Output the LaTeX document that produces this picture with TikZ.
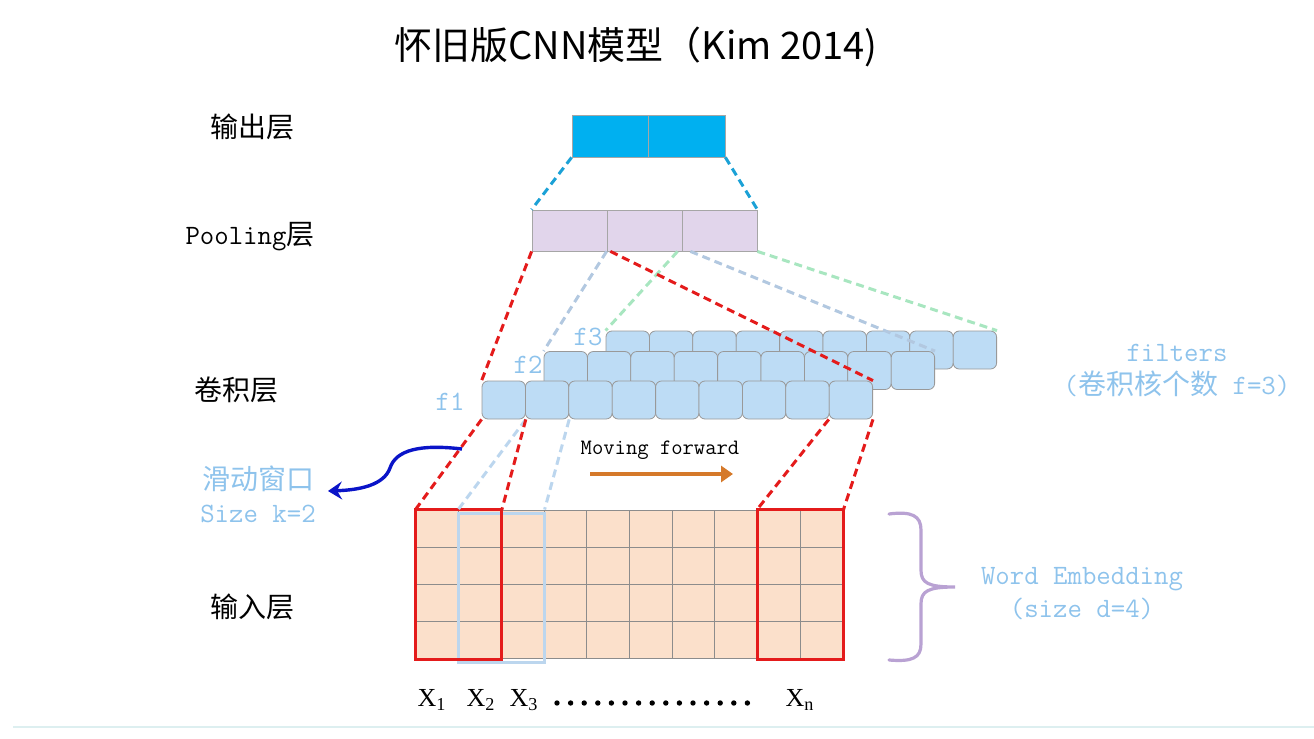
\documentclass[tikz,border=0pt]{standalone}
\usepackage{fontspec}
\setmainfont{Liberation Serif}
\newfontfamily\cjk{Noto Sans CJK SC}
\usetikzlibrary{arrows.meta}

\definecolor{outblue}{HTML}{00B0F0}
\definecolor{poolviolet}{HTML}{E1D5EB}
\definecolor{filterblue}{HTML}{BDDCF5}
\definecolor{embedpeach}{HTML}{FBE0CB}
\definecolor{txtblue}{HTML}{8EC3EC}
\definecolor{winred}{HTML}{E41B1B}
\definecolor{paleblue}{HTML}{BCD6EE}
\definecolor{greyblue}{HTML}{B2C8E0}
\definecolor{palegreen}{HTML}{A8E6C0}
\definecolor{linkcyan}{HTML}{1BA1D6}
\definecolor{slideblue}{HTML}{0A14C8}
\definecolor{moveorange}{HTML}{D5792A}
\definecolor{bracepurple}{HTML}{B9A2D3}
\definecolor{rulecolor}{HTML}{DDEFF0}

\begin{document}
\begin{tikzpicture}[x=0.5pt, y=-0.5pt,
    outcell/.style={draw=gray!70, fill=outblue, minimum width=38.25pt, minimum height=21pt, inner sep=0pt},
    poolcell/.style={draw=gray!70, fill=poolviolet, minimum width=37.5pt, minimum height=20.5pt, inner sep=0pt},
    fcell/.style={draw=gray!80, fill=filterblue, rounded corners=3pt, minimum width=21.7pt, minimum height=19pt, inner sep=0pt},
    ecell/.style={draw=gray!90, fill=embedpeach, line width=0.5pt, minimum width=21.35pt, minimum height=18.6pt, inner sep=0pt},
    conn/.style={dash pattern=on 4pt off 2.5pt, line width=1.5pt},
    layerlab/.style={font=\cjk\fontsize{14}{16}\selectfont},
    bluelab/.style={text=txtblue, font=\ttfamily\fontsize{14}{16.5}\selectfont, align=center},
    xlab/.style={font=\fontsize{13}{15}\selectfont}]
    \useasboundingbox (0,0) rectangle (1314,739);

    % title
    \node[font=\cjk\fontsize{19}{21}\selectfont] (title) at (636,47) {怀旧版CNN模型（Kim 2014)};

    % layer names
    \node[layerlab] (lab-out) at (252,127) {输出层};
    \node[layerlab] (lab-pool) at (250,237) {{\ttfamily Pooling}层};
    \node[layerlab] (lab-conv) at (236,390) {卷积层};
    \node[layerlab] (lab-in) at (252,607) {输入层};

    % output layer
    \foreach \i in {1,2}
        \node[outcell] (out-\i) at ({572+76.5*(\i-0.5)},136) {};
    % pooling layer
    \foreach \i in {1,2,3}
        \node[poolcell] (pool-\i) at ({532+75*(\i-0.5)},230.5) {};

    % filters, back row first
    \foreach \row/\xs/\ys in {3/606/350, 2/544/370.5, 1/482/400}
        \foreach \i in {1,...,9}
            \node[fcell] (f\row-\i) at ({\xs+43.4*(\i-0.5)},\ys) {};
    \node[bluelab] (flab-1) at (450,402) {f1};
    \node[bluelab] (flab-2) at (528,365) {f2};
    \node[bluelab] (flab-3) at (588,337) {f3};

    % word embeddings
    \foreach \c in {1,...,10}
        \foreach \r in {1,...,4}
            \node[ecell] (e-\c-\r) at ({416+42.7*(\c-0.5)},{510+37.25*(\r-0.5)}) {};
    \draw[paleblue, line width=1.5pt] ([yshift=-2pt]e-2-1.north west) rectangle ([yshift=-1.5pt]e-3-4.south east);
    \draw[winred, line width=1.5pt] (e-1-1.north west) rectangle (e-2-4.south east);
    \draw[winred, line width=1.5pt] (e-9-1.north west) rectangle (e-10-4.south east);

    % output -> pooling
    \draw[conn, linkcyan] (out-1.south west) -- (pool-1.north west);
    \draw[conn, linkcyan] (out-2.south east) -- (pool-3.north east);

    % pooling -> filters
    \draw[conn, palegreen] ([xshift=-2pt]pool-3.south west) -- (f3-1.north west);
    \draw[conn, palegreen] (pool-3.south east) -- (f3-9.north east);
    \draw[conn, greyblue] (pool-2.south west) -- (f2-1.north west);
    \draw[conn, greyblue] ([xshift=4pt]pool-2.south east) -- (f2-9.north east);
    \draw[conn, winred] (pool-1.south west) -- (f1-1.north west);
    \draw[conn, winred] ([xshift=1.5pt]pool-1.south east) -- (f1-9.north east);

    % filters -> windows
    \draw[conn, paleblue] (f1-1.south east) -- (e-2-1.north west);
    \draw[conn, paleblue] (f1-2.south east) -- (e-3-1.north east);
    \draw[conn, winred] (f1-1.south west) -- (e-1-1.north west);
    \draw[conn, winred] (f1-1.south east) -- (e-2-1.north east);
    \draw[conn, winred] (f1-9.south west) -- (e-9-1.north west);
    \draw[conn, winred] (f1-9.south east) -- (e-10-1.north east);

    % sliding window note
    \coordinate (slide) at (462,449);
    \coordinate (slidetip) at (328,491);
    \draw[slideblue, line width=1.7pt, -{Stealth[length=7pt, width=9pt, inset=2.5pt]}]
        (slide) .. controls (420,444) and (396,450) .. (390,468)
        .. controls (384,485) and (360,490) .. (slidetip);
    \node[bluelab] (slidelab) at (258,494) {{\cjk 滑动窗口}\\Size k=2};

    % moving forward
    \node[font=\ttfamily\fontsize{11}{13}\selectfont] (moving) at (660,450) {Moving forward};
    \coordinate (mvstart) at (590,474);
    \coordinate (mvend) at (733,474);
    \draw[moveorange, line width=2pt, -{Triangle[length=6pt, width=8pt]}] (mvstart) -- (mvend);

    % filters note
    \node[bluelab] (filterlab) at (1177,371) {filters\\({\cjk 卷积核个数} f=3)};

    % embedding brace
    \coordinate (btop) at (889,514);
    \coordinate (btip) at (955,587);
    \coordinate (bbot) at (889,660);
    \draw[bracepurple, line width=1.6pt, line cap=round]
        (btop) .. controls (912,511) and (921,516) .. (921,530) -- (921,570)
        .. controls (921,583) and (928,587) .. (btip)
        .. controls (928,587) and (921,591) .. (921,604) -- (921,644)
        .. controls (921,658) and (912,662) .. (bbot);
    \node[bluelab] (embedlab) at (1082,594) {Word Embedding\\(size d=4)};

    % words
    \node[xlab] (x1) at (432,700) {X\textsubscript{1}};
    \node[xlab] (x2) at (481,700) {X\textsubscript{2}};
    \node[xlab] (x3) at (524,700) {X\textsubscript{3}};
    \node[xlab] (xn) at (800,700) {X\textsubscript{n}};
    \foreach \k in {0,...,14}
        \fill ({557+13.6*\k},703) circle (2.7);

    % bottom rule
    \draw[rulecolor, line width=1pt] (13,727) -- (1314,727);
\end{tikzpicture}
\end{document}
